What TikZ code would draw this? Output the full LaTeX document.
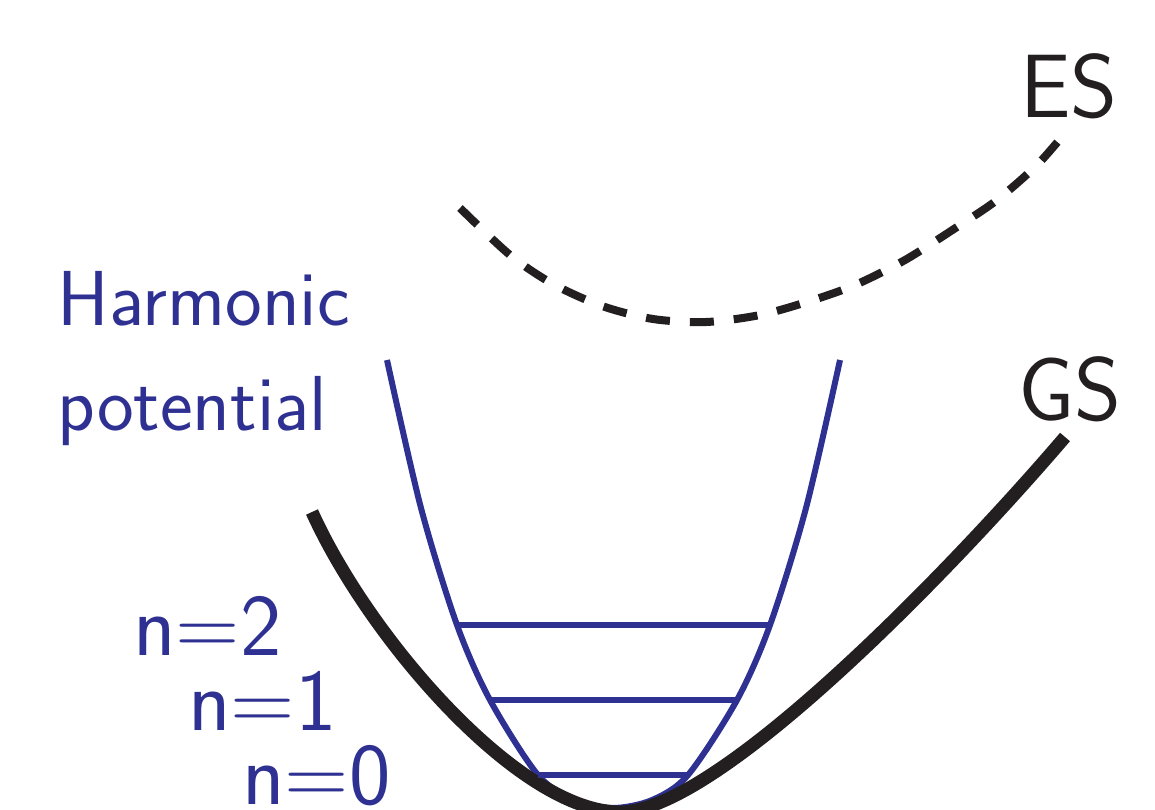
\documentclass[tikz,border=0pt]{standalone}
\usepackage{tikz}
\usetikzlibrary{positioning}
\definecolor{harmblue}{HTML}{2E3192}
\definecolor{curveblack}{HTML}{231F20}

\begin{document}
\begin{tikzpicture}[
			x=0.5pt, y=-0.5pt,
			gsline/.style={curveblack, line width=6.5pt},
			esline/.style={curveblack, line width=4pt, dash pattern=on 12pt off 10pt},
			harmline/.style={harmblue, line width=3pt},
			levelline/.style={harmblue, line width=3pt},
			statetext/.style={curveblack, inner sep=0pt, anchor=base west, font=\sffamily\fontsize{45}{50}\selectfont},
			bluetext/.style={harmblue, inner sep=0pt, anchor=base west, font=\sffamily\fontsize{39}{44}\selectfont},
			leveltext/.style={harmblue, inner sep=0pt, anchor=base west, font=\sffamily\fontsize{44}{48}\selectfont}
			]
			\useasboundingbox (0,0) rectangle (1155,809);
			\clip (0,0) rectangle (1155,809);
			
			% Nodes
			\node[statetext] (es) at (1020,117) {ES};
			\node[statetext] (gs) at (1018,420) {GS};
			\node[bluetext] (harm) at (57,325) {Harmonic};
			\node[bluetext] (pot) at (57,430) {potential};
			\foreach \n/\x/\y in {2/133/655, 1/188/730, 0/242/804}
				\node[leveltext] (n\n) at (\x,\y) {n=\n};
			
			% Curves
			\draw[esline] plot[smooth] coordinates {(460,208) (510,255) (553,284) (602,306) (653,319) (706,322) (760,315) (810,301) (855,285) (905,260) (957,227) (997,200) (1037,165) (1065,133)};
			\draw[harmline] plot[smooth] coordinates {(387,360) (421,508) (457,625) (490,700) (538,775) (575,800) (613,808) (652,800) (688,775) (737,700) (770,625) (806,508) (840,360)};
			\draw[gsline] (312,512) .. controls (370,640) and (520,812) .. (620,812)
				.. controls (720,812) and (960,560) .. (1065,437);
			
			% Levels
			\draw[levelline] (457,625) -- (770,625);
			\draw[levelline] (490,700) -- (737,700);
			\draw[levelline] (538,775) -- (688,775);
			
		\end{tikzpicture}
\end{document}
